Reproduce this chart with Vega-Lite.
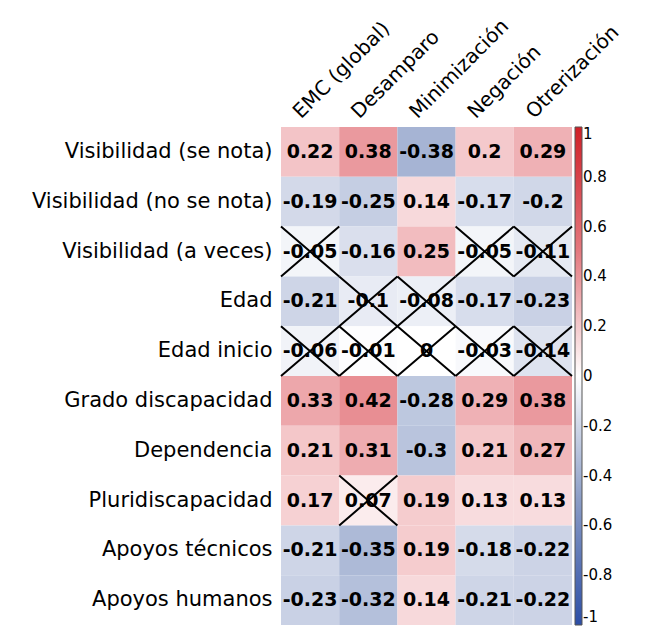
{
  "$schema": "https://vega.github.io/schema/vega-lite/v6.json",
  "autosize": "none",
  "width": 291,
  "height": 498,
  "padding": {"left": 281, "top": 127, "right": 80, "bottom": 16},
  "background": "white",
  "config": {"view": {"stroke": null}, "font": "DejaVu Sans"},
  "data": {"values": [
    {"row": "Visibilidad (se nota)", "col": "EMC (global)", "r": 0.22, "sig": true},
    {"row": "Visibilidad (se nota)", "col": "Desamparo", "r": 0.38, "sig": true},
    {"row": "Visibilidad (se nota)", "col": "Minimización", "r": -0.38, "sig": true},
    {"row": "Visibilidad (se nota)", "col": "Negación", "r": 0.2, "sig": true},
    {"row": "Visibilidad (se nota)", "col": "Otrerización", "r": 0.29, "sig": true},
    {"row": "Visibilidad (no se nota)", "col": "EMC (global)", "r": -0.19, "sig": true},
    {"row": "Visibilidad (no se nota)", "col": "Desamparo", "r": -0.25, "sig": true},
    {"row": "Visibilidad (no se nota)", "col": "Minimización", "r": 0.14, "sig": true},
    {"row": "Visibilidad (no se nota)", "col": "Negación", "r": -0.17, "sig": true},
    {"row": "Visibilidad (no se nota)", "col": "Otrerización", "r": -0.2, "sig": true},
    {"row": "Visibilidad (a veces)", "col": "EMC (global)", "r": -0.05, "sig": false},
    {"row": "Visibilidad (a veces)", "col": "Desamparo", "r": -0.16, "sig": true},
    {"row": "Visibilidad (a veces)", "col": "Minimización", "r": 0.25, "sig": true},
    {"row": "Visibilidad (a veces)", "col": "Negación", "r": -0.05, "sig": false},
    {"row": "Visibilidad (a veces)", "col": "Otrerización", "r": -0.11, "sig": false},
    {"row": "Edad", "col": "EMC (global)", "r": -0.21, "sig": true},
    {"row": "Edad", "col": "Desamparo", "r": -0.1, "sig": false},
    {"row": "Edad", "col": "Minimización", "r": -0.08, "sig": false},
    {"row": "Edad", "col": "Negación", "r": -0.17, "sig": true},
    {"row": "Edad", "col": "Otrerización", "r": -0.23, "sig": true},
    {"row": "Edad inicio", "col": "EMC (global)", "r": -0.06, "sig": false},
    {"row": "Edad inicio", "col": "Desamparo", "r": -0.01, "sig": false},
    {"row": "Edad inicio", "col": "Minimización", "r": 0, "sig": false},
    {"row": "Edad inicio", "col": "Negación", "r": -0.03, "sig": false},
    {"row": "Edad inicio", "col": "Otrerización", "r": -0.14, "sig": false},
    {"row": "Grado discapacidad", "col": "EMC (global)", "r": 0.33, "sig": true},
    {"row": "Grado discapacidad", "col": "Desamparo", "r": 0.42, "sig": true},
    {"row": "Grado discapacidad", "col": "Minimización", "r": -0.28, "sig": true},
    {"row": "Grado discapacidad", "col": "Negación", "r": 0.29, "sig": true},
    {"row": "Grado discapacidad", "col": "Otrerización", "r": 0.38, "sig": true},
    {"row": "Dependencia", "col": "EMC (global)", "r": 0.21, "sig": true},
    {"row": "Dependencia", "col": "Desamparo", "r": 0.31, "sig": true},
    {"row": "Dependencia", "col": "Minimización", "r": -0.3, "sig": true},
    {"row": "Dependencia", "col": "Negación", "r": 0.21, "sig": true},
    {"row": "Dependencia", "col": "Otrerización", "r": 0.27, "sig": true},
    {"row": "Pluridiscapacidad", "col": "EMC (global)", "r": 0.17, "sig": true},
    {"row": "Pluridiscapacidad", "col": "Desamparo", "r": 0.07, "sig": false},
    {"row": "Pluridiscapacidad", "col": "Minimización", "r": 0.19, "sig": true},
    {"row": "Pluridiscapacidad", "col": "Negación", "r": 0.13, "sig": true},
    {"row": "Pluridiscapacidad", "col": "Otrerización", "r": 0.13, "sig": true},
    {"row": "Apoyos técnicos", "col": "EMC (global)", "r": -0.21, "sig": true},
    {"row": "Apoyos técnicos", "col": "Desamparo", "r": -0.35, "sig": true},
    {"row": "Apoyos técnicos", "col": "Minimización", "r": 0.19, "sig": true},
    {"row": "Apoyos técnicos", "col": "Negación", "r": -0.18, "sig": true},
    {"row": "Apoyos técnicos", "col": "Otrerización", "r": -0.22, "sig": true},
    {"row": "Apoyos humanos", "col": "EMC (global)", "r": -0.23, "sig": true},
    {"row": "Apoyos humanos", "col": "Desamparo", "r": -0.32, "sig": true},
    {"row": "Apoyos humanos", "col": "Minimización", "r": 0.14, "sig": true},
    {"row": "Apoyos humanos", "col": "Negación", "r": -0.21, "sig": true},
    {"row": "Apoyos humanos", "col": "Otrerización", "r": -0.22, "sig": true}
  ]},
  "encoding": {
    "x": {
      "field": "col", "type": "nominal",
      "sort": ["EMC (global)", "Desamparo", "Minimización", "Negación", "Otrerización"],
      "scale": {"paddingInner": 0, "paddingOuter": 0},
      "axis": {
        "orient": "top", "title": null, "domain": false, "ticks": false,
        "labelAngle": -45, "labelAlign": "left", "labelBaseline": "alphabetic",
        "labelPadding": 8, "labelOffset": -9, "labelFontSize": 20, "labelColor": "#000000",
        "labelFont": "DejaVu Sans", "labelLimit": 0
      }
    },
    "y": {
      "field": "row", "type": "nominal",
      "sort": ["Visibilidad (se nota)", "Visibilidad (no se nota)", "Visibilidad (a veces)", "Edad", "Edad inicio", "Grado discapacidad", "Dependencia", "Pluridiscapacidad", "Apoyos técnicos", "Apoyos humanos"],
      "scale": {"paddingInner": 0, "paddingOuter": 0},
      "axis": {
        "title": null, "domain": false, "ticks": false,
        "labelPadding": 9, "labelFontSize": 21, "labelColor": "#000000",
        "labelFont": "DejaVu Sans", "labelLimit": 0
      }
    }
  },
  "layer": [
    {
      "mark": {"type": "rect", "stroke": null},
      "encoding": {
        "color": {
          "field": "r", "type": "quantitative",
          "scale": {
            "domain": [-1, -0.5, 0, 0.5, 1],
            "range": ["#2c4ea6", "#8a9cc6", "#ffffff", "#e4797f", "#d01f27"],
            "interpolate": "rgb"
          },
          "legend": {
            "orient": "none", "legendX": 294, "legendY": 0,
            "direction": "vertical", "title": null,
            "gradientLength": 498, "gradientThickness": 7,
            "gradientStrokeColor": "#555555", "gradientStrokeWidth": 1,
            "values": [-1, -0.8, -0.6, -0.4, -0.2, 0, 0.2, 0.4, 0.6, 0.8, 1],
            "labelExpr": "toString(datum.value)",
            "labelFontSize": 15, "labelColor": "#000000", "labelOffset": 1,
            "labelFont": "DejaVu Sans", "labelOverlap": false
          }
        }
      }
    },
    {
      "mark": {"type": "text", "fontSize": 19, "fontWeight": "bold", "color": "#000000", "font": "DejaVu Sans"},
      "encoding": {"text": {"field": "r", "type": "nominal"}}
    },
    {
      "transform": [{"filter": "!datum.sig"}],
      "mark": {
        "type": "point", "filled": false, "stroke": "#000000", "strokeWidth": 2, "opacity": 1,
        "shape": "M-1,-0.856L1,0.856M1,-0.856L-1,0.856", "size": 3387
      },
      "encoding": {}
    }
  ]
}
